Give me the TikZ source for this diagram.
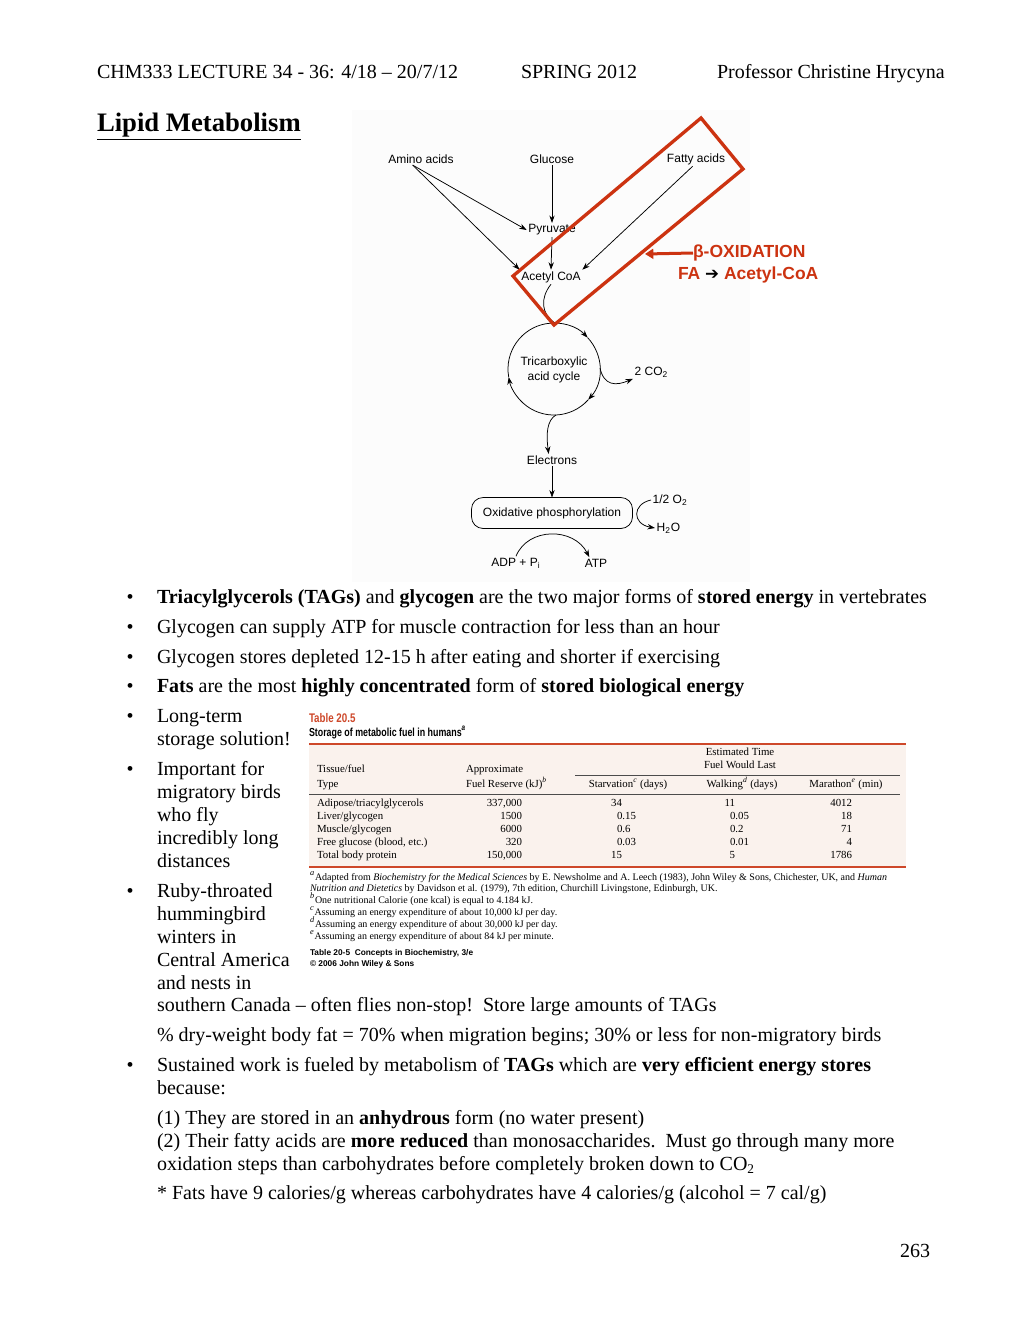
\documentclass[tikz,border=0pt]{standalone}
\usepackage{fontspec}
\setmainfont{Liberation Serif}
\newfontfamily\diagfont{Liberation Sans}
\newfontfamily\symfont{DejaVu Sans}
\usetikzlibrary{arrows.meta}

\definecolor{oxred}{RGB}{204,51,17}
\definecolor{tabred}{RGB}{206,72,42}
\definecolor{tabbg}{RGB}{250,242,237}
\definecolor{figbg}{RGB}{252,252,252}

\tikzset{
    every node/.style={inner sep=0pt, outer sep=0pt},
    body/.style={anchor=base west, font=\fontsize{12}{14}\selectfont},
    dot/.style={anchor=base, font=\fontsize{12}{14}\selectfont},
    path label/.style={inner sep=1pt, font=\diagfont\fontsize{7.2}{8.6}\selectfont},
    flow/.style={-{Stealth[length=4.5pt, width=3.2pt]}, line width=0.45pt},
    link/.style={line width=0.45pt},
    redbox/.style={draw=oxred, line width=2pt, line join=miter},
    redarrow/.style={draw=oxred, fill=oxred, line width=1.8pt, -{Triangle[length=5pt, width=6pt]}},
    ox label/.style={anchor=west, text=oxred, font=\diagfont\bfseries\fontsize{10.5}{12}\selectfont},
    cell/.style={anchor=base west, font=\fontsize{6.5}{7.5}\selectfont},
    num/.style={anchor=base east, font=\fontsize{6.5}{7.5}\selectfont},
    head/.style={anchor=base, font=\fontsize{6.5}{7.5}\selectfont},
    fnote/.style={anchor=base west, font=\fontsize{6}{7}\selectfont},
    rule/.style={draw=black!70, line width=0.4pt}
}

\begin{document}
\begin{tikzpicture}[x=0.6pt, y=-0.6pt]
    \fill[white] (0, 0) rectangle (1020, 1320);
    \useasboundingbox (0, 0) rectangle (1020, 1320);

    % page head
    \node (course) [body] at (97, 78) {CHM333 LECTURE 34 - 36: 4/18 – 20/7/12};
    \node (term) [body] at (521, 78) {SPRING 2012};
    \node (prof) [body] at (717, 78) {Professor Christine Hrycyna};
    \node (title) [body, font=\fontsize{16}{18}\selectfont\bfseries] at (97, 131) {\underline{Lipid Metabolism}};

    % pathway figure
    \fill[figbg] (352, 110) rectangle (750, 582);
    \node (amino) [path label] at (421, 159) {Amino acids};
    \node (glucose) [path label] at (552, 159) {Glucose};
    \node (fatty) [path label] at (696, 159) {Fatty acids};
    \node (pyruvate) [path label] at (552, 230) {Pyruvate};
    \node (acetyl) [path label] at (551, 277) {Acetyl CoA};
    \node (tca) [path label, align=center] at (554, 370) {Tricarboxylic\\acid cycle};
    \node (co2) [path label, anchor=west] at (633, 372) {2 CO\textsubscript{2}};
    \node (electrons) [path label] at (552, 460) {Electrons};
    \node (oxphos) [path label, draw, line width=0.45pt, rounded corners=7pt,
        minimum width=96.6pt, minimum height=18.6pt] at (552, 513) {Oxidative phosphorylation};
    \node (halfO2) [path label, anchor=west] at (651, 500) {1/2 O\textsubscript{2}};
    \node (water) [path label, anchor=west] at (655, 528) {H\textsubscript{2}O};
    \node (adp) [path label] at (516, 563) {ADP + P\textsubscript{i}};
    \node (atp) [path label] at (596, 563) {ATP};

    \coordinate (tcaTop) at (555, 323);
    \coordinate (tcaRight) at (600, 368);
    \coordinate (tcaBottom) at (556, 415);

    \draw[flow] ([xshift=-5pt]amino.south) -- (pyruvate.west);
    \draw[flow] ([xshift=-5pt]amino.south) -- (acetyl.north west);
    \draw[flow] (glucose.south) -- (pyruvate.north);
    \draw[flow] (pyruvate.south) -- (acetyl.north);
    \draw[flow] ([xshift=-2pt]fatty.south) -- (acetyl.north east);
    \draw[link] (acetyl.south) .. controls (540, 298) and (541, 314) .. (tcaTop);

    \draw[flow] (588.2, 399.8) arc[start angle=42, end angle=170, radius=46];
    \draw[flow] (508.7, 377.0) arc[start angle=170, end angle=317, radius=46];
    \draw[flow] (587.6, 337.6) arc[start angle=317, end angle=402, radius=46];

    \draw[flow] (tcaRight) .. controls (604, 386) and (616, 386) .. (co2.south west);
    \draw[flow] (tcaBottom) .. controls (547, 420) and (546, 434) .. ([xshift=-2pt]electrons.north);
    \draw[flow] (electrons.south) -- (oxphos.north);
    \draw[flow] (halfO2.west) .. controls (632, 504) and (632, 524) .. (water.west);
    \draw[flow] (adp.north) .. controls (528, 527) and (574, 527) .. ([xshift=-4pt]atp.north);

    % beta-oxidation highlight
    \draw[redbox] (701, 118) -- (743, 169) -- (554, 325) -- (513, 276) -- cycle;
    \node (betaox) [ox label] at (693, 253) {β-OXIDATION};
    \node (faacoa) [ox label] at (678, 275) {FA {\symfont\color{black}\fontsize{10}{11}\selectfont ➔} Acetyl-CoA};
    \coordinate (boxedge) at (645, 254);
    \draw[redarrow] (betaox.west) -- (boxedge);

    % bullet list
    \node (d1) [dot] at (130, 603) {•};
    \node (l1) [body] at (157, 603) {\textbf{Triacylglycerols (TAGs)} and \textbf{glycogen} are the two major forms of \textbf{stored energy} in vertebrates};
    \node (d2) [dot] at (130, 633) {•};
    \node (l2) [body] at (157, 633) {Glycogen can supply ATP for muscle contraction for less than an hour};
    \node (d3) [dot] at (130, 663) {•};
    \node (l3) [body] at (157, 663) {Glycogen stores depleted 12-15 h after eating and shorter if exercising};
    \node (d4) [dot] at (130, 692) {•};
    \node (l4) [body] at (157, 692) {\textbf{Fats} are the most \textbf{highly concentrated} form of \textbf{stored biological energy}};
    \node (d5) [dot] at (130, 722) {•};
    \node (l5a) [body] at (157, 722) {Long-term};
    \node (l5b) [body] at (157, 745) {storage solution!};
    \node (d6) [dot] at (130, 775) {•};
    \node (l6a) [body] at (157, 775) {Important for};
    \node (l6b) [body] at (157, 798) {migratory birds};
    \node (l6c) [body] at (157, 821) {who fly};
    \node (l6d) [body] at (157, 844) {incredibly long};
    \node (l6e) [body] at (157, 867) {distances};
    \node (d7) [dot] at (130, 897) {•};
    \node (l7a) [body] at (157, 897) {Ruby-throated};
    \node (l7b) [body] at (157, 920) {hummingbird};
    \node (l7c) [body] at (157, 943) {winters in};
    \node (l7d) [body] at (157, 966) {Central America};
    \node (l7e) [body] at (157, 989) {and nests in};
    \node (l7f) [body] at (157, 1011) {southern Canada – often flies non-stop!\ \ Store large amounts of TAGs};
    \node (l8) [body] at (157, 1041) {\% dry-weight body fat = 70\% when migration begins; 30\% or less for non-migratory birds};
    \node (d9) [dot] at (130, 1071) {•};
    \node (l9a) [body] at (157, 1071) {Sustained work is fueled by metabolism of \textbf{TAGs} which are \textbf{very efficient energy stores}};
    \node (l9b) [body] at (157, 1094) {because:};
    \node (l10) [body] at (157, 1124) {(1) They are stored in an \textbf{anhydrous} form (no water present)};
    \node (l11) [body] at (157, 1147) {(2) Their fatty acids are \textbf{more reduced} than monosaccharides.\ \ Must go through many more};
    \node (l12) [body] at (157, 1170) {oxidation steps than carbohydrates before completely broken down to CO\textsubscript{2}};
    \node (l13) [body] at (157, 1199) {* Fats have 9 calories/g whereas carbohydrates have 4 calories/g (alcohol = 7 cal/g)};
    \node (pagenum) [dot] at (915, 1257) {263};

    % table 20.5
    \node (tabno) [anchor=base west, text=tabred, font=\diagfont\bfseries\fontsize{7.5}{8}\selectfont] at (309, 722) {\scalebox{0.78}[1]{Table 20.5}};
    \node (tabcap) [anchor=base west, font=\diagfont\bfseries\fontsize{7}{8}\selectfont] at (309, 736) {\scalebox{0.76}[1]{Storage of metabolic fuel in humans\textsuperscript{\itshape a}}};
    \fill[tabbg] (309, 745) rectangle (906, 866);
    \draw[draw=tabred, line width=1pt] (309, 744) -- (906, 744);
    \draw[draw=tabred, line width=1pt] (309, 867) -- (906, 867);
    \draw[rule] (575, 775) -- (900, 775);
    \draw[rule] (309, 794) -- (900, 794);

    \node (hEst) [head] at (740, 755) {Estimated Time};
    \node (hLast) [head] at (740, 768) {Fuel Would Last};
    \node (hTissue) [cell] at (317, 772) {Tissue/fuel};
    \node (hType) [cell] at (317, 787) {Type};
    \node (hApprox) [cell] at (466, 772) {Approximate};
    \node (hReserve) [cell] at (466, 787) {Fuel Reserve (kJ)\textsuperscript{\itshape b}};
    \node (hStarv) [head] at (628, 787) {Starvation\textsuperscript{\itshape c} (days)};
    \node (hWalk) [head] at (742, 787) {Walking\textsuperscript{\itshape d} (days)};
    \node (hMara) [head] at (846, 787) {Marathon\textsuperscript{\itshape e} (min)};

    \node (r1a) [cell] at (317, 806) {Adipose/triacylglycerols};
    \node (r1b) [num] at (522, 806) {337,000};
    \node (r1c) [num] at (622, 806) {34};
    \node (r1d) [num] at (735, 806) {11};
    \node (r1e) [num] at (852, 806) {4012};
    \node (r2a) [cell] at (317, 819) {Liver/glycogen};
    \node (r2b) [num] at (522, 819) {1500};
    \node (r2c) [cell] at (617, 819) {0.15};
    \node (r2d) [cell] at (730, 819) {0.05};
    \node (r2e) [num] at (852, 819) {18};
    \node (r3a) [cell] at (317, 832) {Muscle/glycogen};
    \node (r3b) [num] at (522, 832) {6000};
    \node (r3c) [cell] at (617, 832) {0.6};
    \node (r3d) [cell] at (730, 832) {0.2};
    \node (r3e) [num] at (852, 832) {71};
    \node (r4a) [cell] at (317, 845) {Free glucose (blood, etc.)};
    \node (r4b) [num] at (522, 845) {320};
    \node (r4c) [cell] at (617, 845) {0.03};
    \node (r4d) [cell] at (730, 845) {0.01};
    \node (r4e) [num] at (852, 845) {4};
    \node (r5a) [cell] at (317, 858) {Total body protein};
    \node (r5b) [num] at (522, 858) {150,000};
    \node (r5c) [num] at (622, 858) {15};
    \node (r5d) [num] at (735, 858) {5};
    \node (r5e) [num] at (852, 858) {1786};

    \node (fa) [fnote] at (310, 880) {\textsuperscript{\itshape a}Adapted from \textit{Biochemistry for the Medical Sciences} by E. Newsholme and A. Leech (1983), John Wiley \& Sons, Chichester, UK, and \textit{Human}};
    \node (fa2) [fnote] at (310, 891) {\textit{Nutrition and Dietetics} by Davidson et al. (1979), 7th edition, Churchill Livingstone, Edinburgh, UK.};
    \node (fb) [fnote] at (310, 903) {\textsuperscript{\itshape b}One nutritional Calorie (one kcal) is equal to 4.184 kJ.};
    \node (fc) [fnote] at (310, 915) {\textsuperscript{\itshape c}Assuming an energy expenditure of about 10,000 kJ per day.};
    \node (fd) [fnote] at (310, 927) {\textsuperscript{\itshape d}Assuming an energy expenditure of about 30,000 kJ per day.};
    \node (fe) [fnote] at (310, 939) {\textsuperscript{\itshape e}Assuming an energy expenditure of about 84 kJ per minute.};
    \node (src1) [anchor=base west, font=\diagfont\bfseries\fontsize{5}{6}\selectfont] at (310, 955) {Table 20-5\ \ Concepts in Biochemistry, 3/e};
    \node (src2) [anchor=base west, font=\diagfont\bfseries\fontsize{5}{6}\selectfont] at (310, 966) {© 2006 John Wiley \& Sons};
\end{tikzpicture}
\end{document}
